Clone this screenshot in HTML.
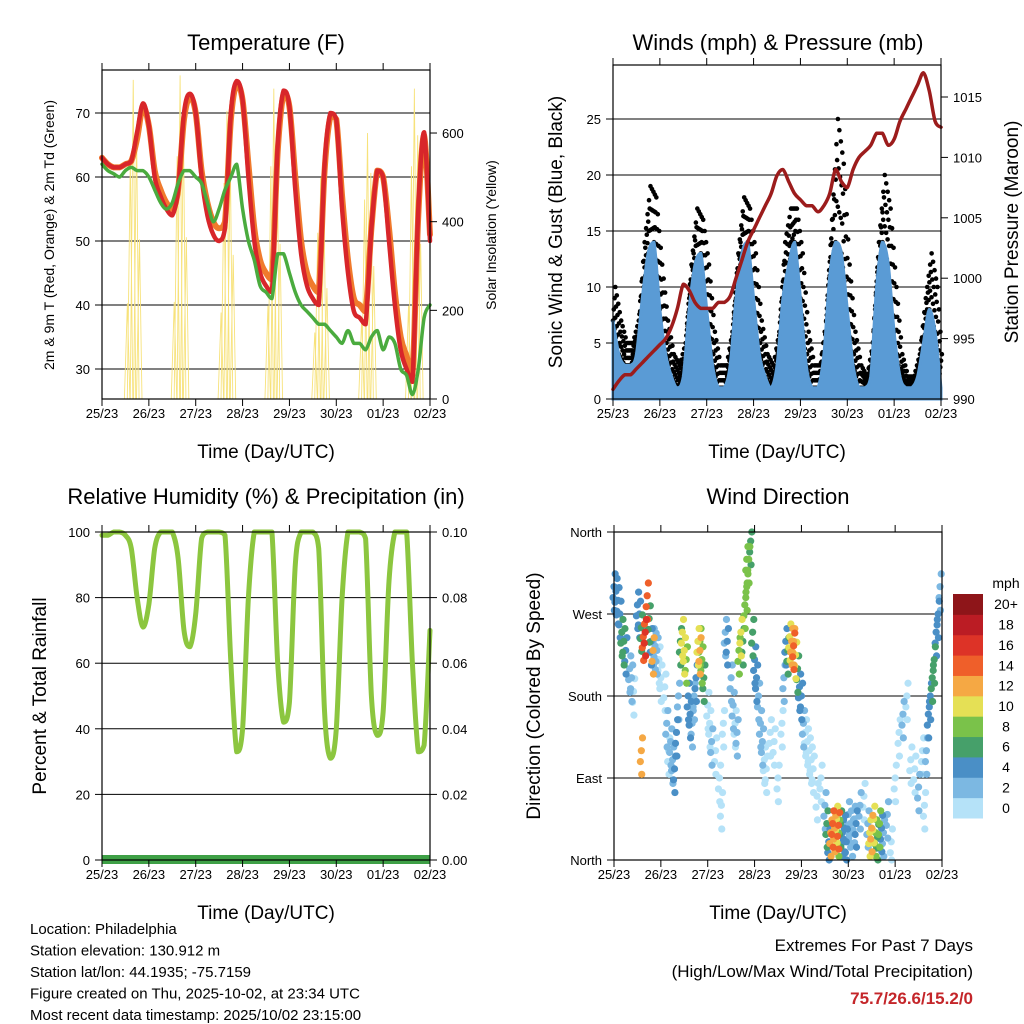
<!DOCTYPE html>
<html><head><meta charset="utf-8"><style>
html,body{margin:0;padding:0;background:#fff;}
svg{display:block;font-family:"Liberation Sans",sans-serif;}
</style></head><body>
<svg id="svg" width="1024" height="1024" viewBox="0 0 1024 1024" xmlns="http://www.w3.org/2000/svg"></svg>
<script>
// ===== Data (3-hour samples, hours since 25/23 UTC) =====
const xTickLabels = ["25/23","26/23","27/23","28/23","29/23","30/23","01/23","02/23"];
const temp2m = [63,62,61.5,61.5,62,62.5,67,71.5,68,60,57,55,54,58,70,73,70,60,54,51,50,52,70,75,72,60,50,45,43,42,65,73.5,71,58,48,43,41,40,62,70,69,55,45,39,38,37,52,61,60,50,40,33,30,28,55,67,50];
const temp9m = [63,62,61.5,61.5,62,62.5,66,71,68,61,58,56,55,58,69,72.5,70,61,56,53,52,53,69,74.5,72,62,52,47,45,44,64,73,71,60,50,45,43,42,61,69.5,69,57,47,41,40,39,52,61,60,52,42,35,32,29,54,66.5,51];
const dewpt = [62,61,60.5,60,61,61.5,61,61,60,58,56,55,56,59,61,61,60,59,56,53,55,58,60,62,55,50,47,43,42,41,48,48,45,42,40,39,38,37,37,36,35,34,36,34,34,33,35,36,33,35,34,30,29,26,30,38,40];
const solarPeak = [720,730,650,700,500,600,700];
const solarNoonHr = [17,41,65,89,113,137,161];
const windSust = [7,4,3,3,4,9,13,14,8,4,2,1,2,8,12,13,8,3,1,1,3,9,13,14,9,4,2,1,3,9,12,14,9,3,1,1,4,11,14,13,8,3,1,1,2,10,14,12,6,2,1,1,2,5,8,6,1];
const windGust = [10,7,5,5,7,14,19,18,12,7,4,3,5,12,17,16,12,6,3,3,6,13,18,17,13,7,4,3,6,14,17,17,13,6,3,3,7,16,25,21,12,6,3,2,5,14,20,17,10,4,2,2,4,9,13,10,2];
const pressure = [990.8,991.5,992,992,992.5,993,993.5,994,994.5,995,996,997.5,999.5,999,998,997.5,997.5,997.5,998,998,998.5,1000,1001.5,1003,1004,1005,1006,1007,1008.5,1009,1008,1007,1006.5,1006,1006,1005.5,1006,1007,1009,1008,1007.5,1009,1010,1010.5,1011,1012,1012,1011,1011.5,1013,1014,1015,1016,1017,1015.5,1013,1012.5];
const rh = [99,99,100,100,99,95,80,71,78,95,100,100,100,92,70,65,75,98,100,100,100,99,60,33,40,80,100,100,100,100,60,42,48,90,100,100,100,95,45,31,40,80,100,100,100,98,50,38,45,85,100,100,100,60,33,35,70];
// wind direction scatter: hour, degrees, speed(mph)
const wdHour = [0,1,2,3,4,5,6,8,9,10,12,13,14,15,16,17,18,19,20,21,22,23,24,26,27,28,29,30,31,32,33,34,35,36,37,38,39,40,41,42,43,44,45,46,48,49,50,52,54,55,56,57,58,60,61,62,63,64,65,66,67,68,69,70,71,72,73,74,75,76,77,78,80,82,84,86,87,88,89,90,91,92,93,94,95,96,97,98,99,100,101,102,104,106,108,109,110,111,112,113,114,115,116,117,118,119,120,121,122,123,124,126,128,130,131,132,133,134,135,136,137,138,140,142,144,146,148,150,152,154,156,158,159,160,161,162,163,164,165,166,167,14,20,44,68,92,115,134];
const wdDeg = [300,295,285,270,250,240,230,210,200,185,280,270,255,245,250,290,265,240,240,235,230,220,200,190,150,120,130,110,100,140,180,240,250,230,220,180,160,150,180,200,240,230,220,200,170,150,130,120,90,60,150,250,240,200,170,150,140,230,250,240,280,300,330,350,250,220,200,180,150,130,110,100,140,130,90,150,200,240,230,245,240,235,225,210,190,180,150,140,130,120,110,100,70,90,60,40,20,30,40,35,45,30,40,30,35,20,50,40,30,45,40,60,70,40,30,35,45,30,25,40,35,30,50,20,90,140,160,180,110,100,80,120,60,120,160,180,200,220,250,270,300,120,230,240,330,240,38,30];
const wdSpd = [5,5,4,5,6,6,4,3,2,1,5,4,6,14,16,15,7,4,3,3,2,1,1,1,2,1,2,3,4,4,2,7,11,10,9,4,4,3,2,4,10,12,9,6,1,1,2,1,1,1,1,3,4,3,2,1,3,8,10,7,8,8,9,7,6,4,4,3,3,2,1,1,1,1,1,1,2,4,6,10,12,14,11,6,5,4,3,1,1,1,1,0,1,1,2,6,4,12,14,13,11,9,6,4,5,4,3,2,2,3,4,3,1,3,10,12,11,9,7,8,4,3,2,1,0,1,2,1,0,1,2,0,1,2,4,4,6,7,5,4,3,13,12,8,8,12,14,9];
const speedBins = ["0","2","4","6","8","10","12","14","16","18","20+"];

// ===== helpers =====
const NS="http://www.w3.org/2000/svg";
const svg=document.getElementById('svg');
function el(tag,attrs,parent){const e=document.createElementNS(NS,tag);for(const k in attrs)e.setAttribute(k,attrs[k]);(parent||svg).appendChild(e);return e;}
function txt(x,y,s,size,anchor,parent,extra){const t=el('text',Object.assign({x:x,y:y,'font-size':size,'text-anchor':anchor||'middle',fill:'#000'},extra||{}),parent);t.textContent=s;return t;}
const binColors=["#b5e2f8","#7cb8e2","#4a8fc6","#46a06a","#7ac24a","#e5e055","#f5a844","#ef5f2a","#dd3327","#bb1c24","#8e1519"];
function speedColor(s){let i=Math.floor(s/2);if(i>10)i=10;if(i<0)i=0;return binColors[i];}
function clampY(v,a,b){const lo=Math.min(a,b),hi=Math.max(a,b);return Math.max(lo,Math.min(hi,v));}
function smoothD(pts){
  let d='M'+pts[0][0].toFixed(1)+','+pts[0][1].toFixed(1);
  for(let i=0;i<pts.length-1;i++){
    const p0=pts[Math.max(0,i-1)],p1=pts[i],p2=pts[i+1],p3=pts[Math.min(pts.length-1,i+2)];
    const c1=[p1[0]+(p2[0]-p0[0])/6,clampY(p1[1]+(p2[1]-p0[1])/6,p1[1],p2[1])];
    const c2=[p2[0]-(p3[0]-p1[0])/6,clampY(p2[1]-(p3[1]-p1[1])/6,p1[1],p2[1])];
    d+=` C${c1[0].toFixed(1)},${c1[1].toFixed(1)} ${c2[0].toFixed(1)},${c2[1].toFixed(1)} ${p2[0].toFixed(1)},${p2[1].toFixed(1)}`;
  }
  return d;
}

function panel(name,x0,y0,x1,y1){
  const g=el('g',{});
  
  
  const xs=t=>x0+t/168*(x1-x0);
  return {g,x0,y0,x1,y1,xs};
}
function frameAndXTicks(p){
  el('rect',{x:p.x0,y:p.y0,width:p.x1-p.x0,height:p.y1-p.y0,fill:'none',stroke:'#000','stroke-width':1.2},p.g);
  const ag=el('g',{},p.g);
  
  
  xTickLabels.forEach((l,i)=>{const x=p.xs(i*24);
    el('line',{x1:x,x2:x,y1:p.y1,y2:p.y1+7,stroke:'#000','stroke-width':1},ag);
    el('line',{x1:x,x2:x,y1:p.y0,y2:p.y0-7,stroke:'#000','stroke-width':1},ag);
    const t=txt(x,p.y1+19,l,13,'middle',ag);
    
    
  });
  const xt=txt((p.x0+p.x1)/2,p.y1+59,'Time (Day/UTC)',19,'middle',p.g);
  
  
}
function yAxis(p,vals,labels,ys,side){
  const ag=el('g',{},p.g);
  
  
  vals.forEach((v,i)=>{const y=ys(v);
    if(side==='left'){el('line',{x1:p.x0-7,x2:p.x0,y1:y,y2:y,stroke:'#000'},ag);txt(p.x0-12,y+5,labels[i],13,'end',ag);}
    else{el('line',{x1:p.x1,x2:p.x1+7,y1:y,y2:y,stroke:'#000'},ag);txt(p.x1+12,y+5,labels[i],13,'start',ag);}
  });
}
function line(p,data,xs,ys,color,w,name){
  const pts=data.map((v,i)=>[xs(i*3),ys(v)]);
  const l=el('path',{d:smoothD(pts),fill:'none',stroke:color,'stroke-width':w,'stroke-linejoin':'round','stroke-linecap':'round'},p.g);
  
  
  return l;
}
function gridH(p,ys,vals){vals.forEach(v=>{const y=ys(v);el('line',{x1:p.x0,x2:p.x1,y1:y,y2:y,stroke:'#000','stroke-width':1},p.g);});}
function title(x,y,s,name){const t=txt(x,y,s,22,'middle');}
function rotText(x,y,s,size,name){const t=txt(x,y,s,size,'middle',svg,{transform:`rotate(-90 ${x} ${y})`});}

// ===== Panel 1: Temperature =====
(function(){
  const p=panel('temperature-panel',102,70,430,399);
  const ys=v=>369-(v-30)*6.4;
  const ysS=v=>399-v*0.4433;
  gridH(p,ys,[30,40,50,60,70]);
  const sg=el('g',{},p.g);
  
  
  solarPeak.forEach((pk,d)=>{
    const n=solarNoonHr[d];
    [[-4,0.3],[-2.5,0.75],[-1,1],[0.7,0.85],[2.2,0.5]].forEach(([dh,f])=>{
      const x=p.xs(n+dh);
      el('path',{d:`M${x-3},399 L${x},${ysS(pk*f)} L${x+2.5},399`,fill:'none',stroke:'#f7e27a','stroke-width':0.9},sg);
    });
  });
  line(p,temp9m,p.xs,ys,'#f07a2c',6,'temperature-9m-series');
  line(p,temp2m,p.xs,ys,'#d8262a',4.5,'temperature-2m-series');
  line(p,dewpt,p.xs,ys,'#4aab3e',3.5,'dewpoint-series');
  frameAndXTicks(p);
  yAxis(p,[30,40,50,60,70],['30','40','50','60','70'],ys,'left');
  yAxis(p,[0,200,400,600],['0','200','400','600'],ysS,'right');
})();
title(266,50,'Temperature (F)','temperature-title');
rotText(54,235,'2m & 9m T (Red, Orange) & 2m Td (Green)',14,'temperature-y-axis-title');
rotText(496,235,'Solar Insolation (Yellow)',14,'solar-y-axis-title');

// ===== Panel 2: Winds =====
(function(){
  const p=panel('winds-panel',613,65,941,399);
  const ys=v=>399-v*11.2;
  const ysP=v=>399-(v-990)*12.08;
  gridH(p,ys,[5,10,15,20,25]);
  const gg=el('g',{},p.g);
  
  
  for(let i=0;i<windGust.length-1;i++){
    for(let k=0;k<4;k++){const f=k/4;const t=(i+f)*3;
      const g=windGust[i]+(windGust[i+1]-windGust[i])*f;
      const s=windSust[i]+(windSust[i+1]-windSust[i])*f;
      for(let m=0;m<=3;m++){const v=s+(g-s)*m/3;
        el('circle',{cx:p.xs(t+m*0.4),cy:ys(v),r:2.3,fill:'#000'},gg);}
    }
  }
  const bpts=windSust.map((v,i)=>[p.xs(i*3),ys(v)]);
  const bd=smoothD(bpts)+` L${p.x1},${ys(0)} L${p.x0},${ys(0)} Z`;
  const ba=el('path',{d:bd,fill:'#5a9bd5',stroke:'#5a9bd5','stroke-width':3},p.g);
  
  
  line(p,pressure,p.xs,ysP,'#9c1c1c',3.5,'pressure-series');
  frameAndXTicks(p);
  yAxis(p,[0,5,10,15,20,25],['0','5','10','15','20','25'],ys,'left');
  yAxis(p,[990,995,1000,1005,1010,1015],['990','995','1000','1005','1010','1015'],ysP,'right');
})();
title(778,50,'Winds (mph) & Pressure (mb)','winds-title');
rotText(562,232,'Sonic Wind & Gust (Blue, Black)',19,'wind-y-axis-title');
rotText(1018,232,'Station Pressure (Maroon)',19,'pressure-y-axis-title');

// ===== Panel 3: RH =====
(function(){
  const p=panel('humidity-panel',102,532,430,860);
  const ys=v=>860-v*3.28;
  gridH(p,ys,[20,40,60,80]);
  line(p,rh,p.xs,ys,'#8cc63f',5,'relative-humidity-series');
  const pr=el('rect',{x:p.x0,y:855,width:p.x1-p.x0,height:9,fill:'#3ea046'},p.g);
  
  
  frameAndXTicks(p);
  yAxis(p,[0,20,40,60,80,100],['0','20','40','60','80','100'],ys,'left');
  yAxis(p,[0,20,40,60,80,100],['0.00','0.02','0.04','0.06','0.08','0.10'],ys,'right');
})();
title(266,504,'Relative Humidity (%) & Precipitation (in)','humidity-title');
rotText(46,696,'Percent & Total Rainfall',19,'humidity-y-axis-title');

// ===== Panel 4: Wind direction =====
(function(){
  const p=panel('wind-direction-panel',614,532,942,860);
  const ys=v=>860-v/360*328;
  gridH(p,ys,[90,180,270]);
  const sg=el('g',{},p.g);
  
  
  const idx=wdHour.map((h,i)=>i).sort((a,b)=>wdSpd[a]-wdSpd[b]);
  idx.forEach(i=>{
    [[0,0],[0.6,14],[-0.5,-12],[0.2,-26]].forEach(([dh,dd])=>{
      const c=el('circle',{cx:p.xs(wdHour[i]+dh),cy:ys(Math.max(0,Math.min(360,wdDeg[i]+dd))),r:3.6,fill:speedColor(wdSpd[i])},sg);
      
      
    });
  });
  frameAndXTicks(p);
  yAxis(p,[0,90,180,270,360],['North','East','South','West','North'],ys,'left');
  const cb=el('g',{});
  
  
  txt(1006,588,'mph',14,'middle',cb);
  const h=(818-594)/11;
  speedBins.forEach((l,i)=>{const y=818-(i+1)*h;
    const r=el('rect',{x:953,y:y,width:30,height:h+0.5,fill:binColors[i]},cb);
    
    
    txt(1006,y+h/2+5,l,14,'middle',cb);
  });
})();
title(778,504,'Wind Direction','wind-direction-title');
rotText(540,696,'Direction (Colored By Speed)',19,'wind-direction-y-axis-title');

// ===== footer text =====
const info=["Location: Philadelphia","Station elevation: 130.912 m","Station lat/lon: 44.1935; -75.7159","Figure created on Thu, 2025-10-02, at 23:34 UTC","Most recent data timestamp: 2025/10/02 23:15:00"];
const ig=el('g',{});


info.forEach((s,i)=>txt(30,934+i*21.5,s,15,'start',ig));
const eg=el('g',{});


txt(973,951,'Extremes For Past 7 Days',17,'end',eg);
txt(973,977,'(High/Low/Max Wind/Total Precipitation)',17,'end',eg);
txt(973,1004,'75.7/26.6/15.2/0',17,'end',eg,{fill:'#c4262a','font-weight':'bold'});
</script>
</body></html>
